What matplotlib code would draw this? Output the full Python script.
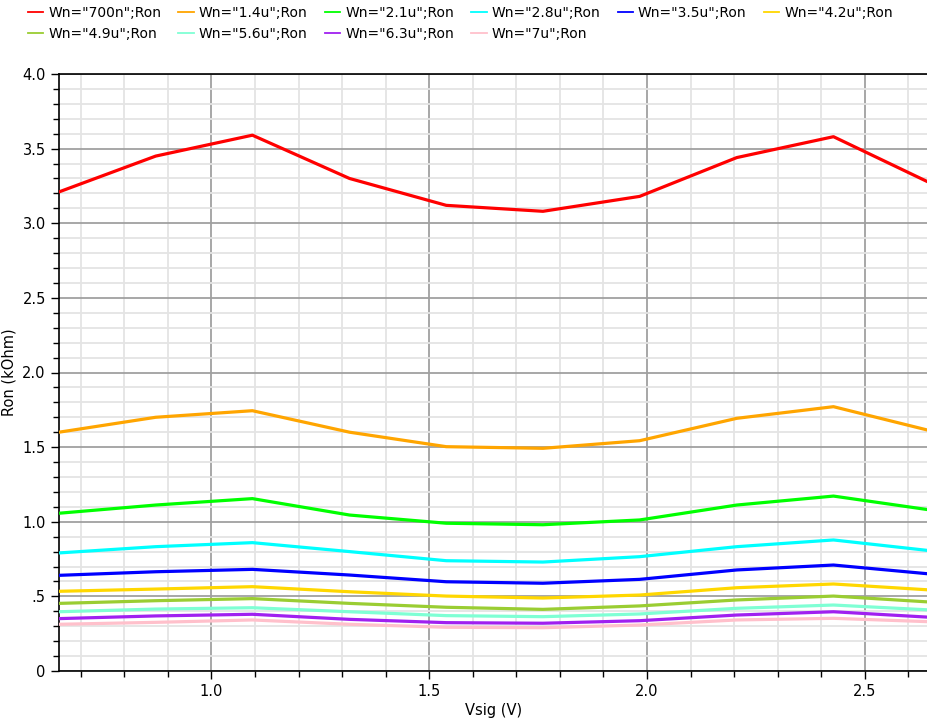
import numpy as np
import matplotlib
matplotlib.use("Agg")
import matplotlib.pyplot as plt
from matplotlib.ticker import MultipleLocator, FuncFormatter

# sweep points
vsig = [0.65, 0.872, 1.094, 1.317, 1.539, 1.761, 1.983, 2.206, 2.428, 2.65]

widths = ['700n', '1.4u', '2.1u', '2.8u', '3.5u', '4.2u', '4.9u', '5.6u', '6.3u', '7u']
colors = ['#ff0000', '#ffa500', '#00ff00', '#00ffff', '#0000ff',
          '#ffd700', '#9acd32', '#7fffd4', '#a020f0', '#ffc0cb']

ron_700n = [3.21, 3.45, 3.59, 3.30, 3.12, 3.08, 3.18, 3.44, 3.58, 3.27]
ron_1p4u = [1.60, 1.70, 1.744, 1.60, 1.503, 1.492, 1.543, 1.693, 1.771, 1.61]
ron_2p1u = [1.057, 1.112, 1.155, 1.045, 0.99, 0.98, 1.012, 1.112, 1.172, 1.079]
ron_2p8u = [0.791, 0.833, 0.860, 0.80, 0.739, 0.730, 0.766, 0.833, 0.878, 0.806]
ron_3p5u = [0.641, 0.665, 0.681, 0.643, 0.598, 0.588, 0.614, 0.677, 0.710, 0.650]
ron_4p2u = [0.534, 0.549, 0.565, 0.531, 0.502, 0.489, 0.509, 0.558, 0.583, 0.543]
ron_4p9u = [0.453, 0.471, 0.485, 0.453, 0.427, 0.413, 0.436, 0.476, 0.502, 0.462]
ron_5p6u = [0.397, 0.415, 0.424, 0.397, 0.371, 0.364, 0.382, 0.420, 0.442, 0.409]
ron_6p3u = [0.351, 0.369, 0.380, 0.346, 0.324, 0.320, 0.337, 0.375, 0.397, 0.360]
ron_7u = [0.313, 0.326, 0.342, 0.313, 0.293, 0.290, 0.308, 0.342, 0.353, 0.330]

series = [ron_700n, ron_1p4u, ron_2p1u, ron_2p8u, ron_3p5u,
          ron_4p2u, ron_4p9u, ron_5p6u, ron_6p3u, ron_7u]

fig = plt.figure(figsize=(9.28, 7.27), dpi=100)
ax = fig.add_axes([59/928, 1 - 671/727, 1 - 59/928, (671 - 74)/727])

lines = []
for w, c, ron in zip(widths, colors, series):
    ln, = ax.plot(vsig, ron, color=c, lw=2.3, label='Wn="%s";Ron' % w, zorder=3)
    lines.append(ln)

ax.set_xlim(0.65, 2.645)
ax.set_ylim(0, 4.0)
ax.xaxis.set_major_locator(MultipleLocator(0.5))
ax.xaxis.set_minor_locator(MultipleLocator(0.1))
ax.yaxis.set_major_locator(MultipleLocator(0.5))
ax.yaxis.set_minor_locator(MultipleLocator(0.1))

def yfmt(v, pos):
    if abs(v) < 1e-9:
        return '0'
    if abs(v - 0.5) < 1e-9:
        return '.5'
    return '%.1f' % v
ax.yaxis.set_major_formatter(FuncFormatter(yfmt))

ax.grid(which='major', color='#a0a0a0', lw=1.3, zorder=1)
ax.grid(which='minor', color='#e4e4e4', lw=1.3, zorder=0)
ax.set_axisbelow(True)

ax.tick_params(which='major', direction='out', length=6, width=1, labelsize=10.5, colors='black')
ax.tick_params(which='minor', direction='out', length=4, width=1)
ax.spines['right'].set_visible(False)
for s in ['left', 'bottom', 'top']:
    ax.spines[s].set_linewidth(1.2)

ax.set_xlabel('Vsig (V)', fontsize=10.5, labelpad=3)
ax.set_ylabel('Ron (kOhm)', fontsize=10.5, labelpad=4)

# legend filled row by row, 6 per row
order = [0, 6, 1, 7, 2, 8, 3, 9, 4, 5]
leg = fig.legend([lines[i] for i in order], [lines[i].get_label() for i in order],
                 loc='upper left', bbox_to_anchor=(0.021, 1.003), ncol=6, frameon=False,
                 fontsize=10, handlelength=1.1, handletextpad=0.36, columnspacing=1.25,
                 labelspacing=0.5, borderaxespad=0.2)
for hl in leg.get_lines():
    hl.set_linewidth(1.3)

fig.savefig('out.png', dpi=100)
